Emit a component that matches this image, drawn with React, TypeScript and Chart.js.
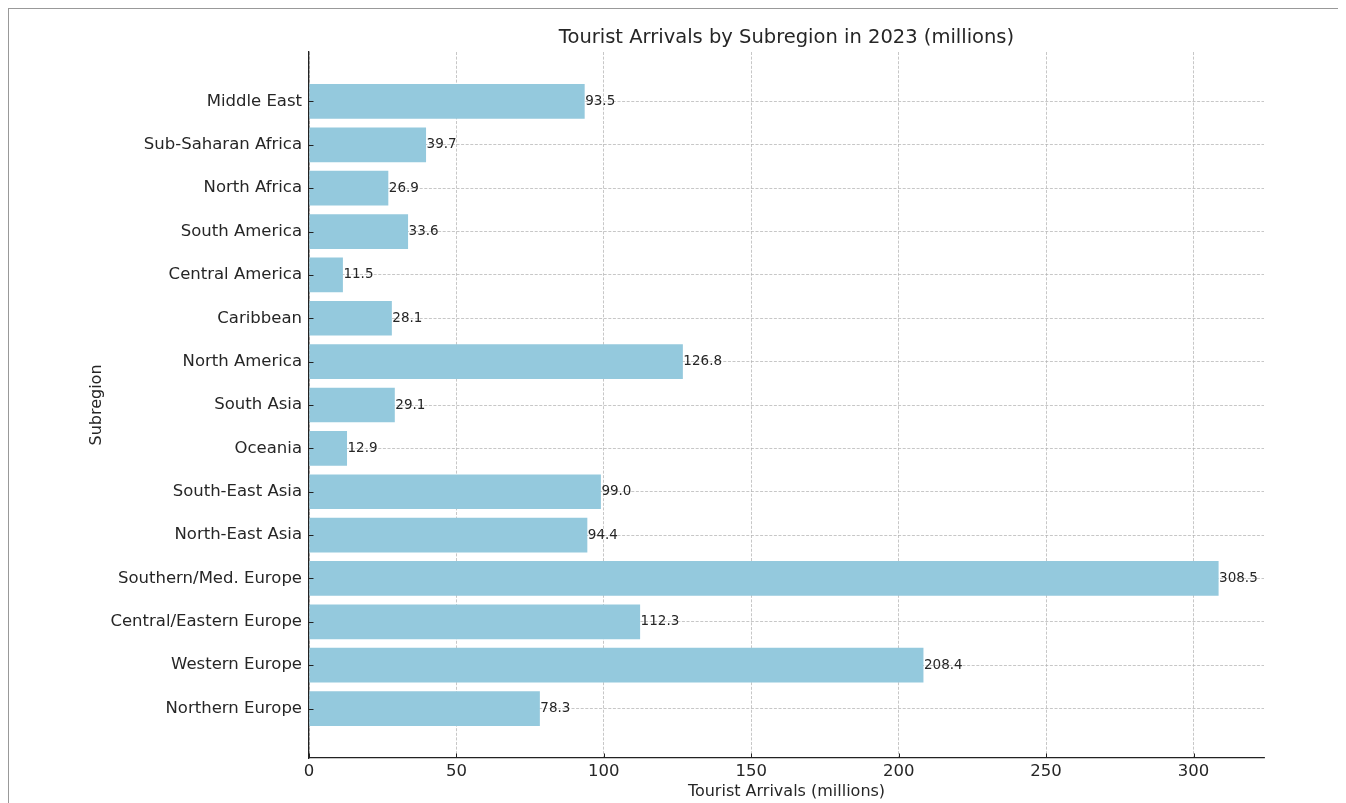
import React, { useEffect, useRef } from "react";
import { Chart, registerables } from "chart.js";

Chart.register(...registerables);

const categories = [
  "Northern Europe",
  "Western Europe",
  "Central/Eastern Europe",
  "Southern/Med. Europe",
  "North-East Asia",
  "South-East Asia",
  "Oceania",
  "South Asia",
  "North America",
  "Caribbean",
  "Central America",
  "South America",
  "North Africa",
  "Sub-Saharan Africa",
  "Middle East",
];

const arrivals = [78.3, 208.4, 112.3, 308.5, 94.4, 99.0, 12.9, 29.1, 126.8, 28.1, 11.5, 33.6, 26.9, 39.7, 93.5];

const xTicks = [0, 50, 100, 150, 200, 250, 300];

const TITLE = "Tourist Arrivals by Subregion in 2023 (millions)";
const X_TITLE = "Tourist Arrivals (millions)";
const Y_TITLE = "Subregion";

const FONT = "'DejaVu Sans', 'Liberation Sans', sans-serif";
const TEXT = "#262626";

const valueLabels = {
  id: "valueLabels",
  afterDatasetsDraw(chart: any) {
    const ctx = chart.ctx;
    const meta = chart.getDatasetMeta(0);
    ctx.save();
    ctx.font = `13.5px ${FONT}`;
    ctx.fillStyle = TEXT;
    ctx.textAlign = "left";
    ctx.textBaseline = "middle";
    meta.data.forEach((bar: any, i: number) => {
      ctx.fillText(arrivals[i].toFixed(1), bar.x + 0.5, bar.y);
    });
    ctx.restore();
  },
};

const inwardTicks = {
  id: "inwardTicks",
  afterDraw(chart: any) {
    const ctx = chart.ctx;
    const { left, bottom } = chart.chartArea;
    const xs = chart.scales.x;
    const ys = chart.scales.y;
    ctx.save();
    ctx.strokeStyle = "#222";
    ctx.lineWidth = 1;
    ctx.beginPath();
    xTicks.forEach((v) => {
      const px = Math.round(xs.getPixelForValue(v)) + 0.5;
      ctx.moveTo(px, bottom);
      ctx.lineTo(px, bottom - 4.5);
    });
    categories.forEach((_, i) => {
      const py = Math.round(ys.getPixelForValue(i)) + 0.5;
      ctx.moveTo(left, py);
      ctx.lineTo(left + 4.5, py);
    });
    ctx.stroke();
    ctx.restore();
  },
};

export default function App() {
  const ref = useRef<HTMLCanvasElement | null>(null);

  useEffect(() => {
    if (!ref.current) return;
    Chart.defaults.font.family = FONT;
    Chart.defaults.color = TEXT;
    const gridColor = "rgba(180,180,180,0.95)";
    const chart = new Chart(ref.current, {
      type: "bar",
      data: {
        datasets: [
          {
            data: categories.map((_, i) => ({ x: arrivals[i], y: i })),
            backgroundColor: "#94c9dd",
            borderColor: "#a6d3e3",
            borderWidth: 0,
            barPercentage: 0.8,
            categoryPercentage: 1.0,
          },
        ],
      },
      options: {
        indexAxis: "y",
        responsive: false,
        animation: false,
        events: [],
        layout: { padding: { top: 0, right: 82, bottom: 0, left: 0 } },
        plugins: {
          legend: { display: false },
          tooltip: { enabled: false },
          title: {
            display: true,
            text: TITLE,
            fullSize: false,
            color: TEXT,
            font: { size: 19.5, weight: "normal", family: FONT, lineHeight: 1.2 },
            padding: { top: 16.8, bottom: 2.8 },
          },
        },
        scales: {
          x: {
            type: "linear",
            min: 0,
            max: 323.9,
            z: 1,
            offset: false,
            afterBuildTicks: (scale: any) => {
              scale.ticks = xTicks.map((v) => ({ value: v }));
            },
            afterFit: (scale: any) => {
              scale.height = 45;
            },
            ticks: {
              color: TEXT,
              font: { size: 16.5, family: FONT, lineHeight: 1.2 },
              padding: 4,
              maxRotation: 0,
              autoSkip: false,
            },
            grid: {
              color: gridColor,
              lineWidth: 0.8,
              drawTicks: false,
              offset: false,
            },
            border: { display: true, color: "#222", width: 1.3, dash: [3, 1.6] },
            title: {
              display: true,
              text: X_TITLE,
              color: TEXT,
              font: { size: 16, family: FONT, lineHeight: 1.2 },
              padding: { top: 0, bottom: 1.4 },
            },
          },
          y: {
            type: "linear",
            min: -1.14,
            max: 15.14,
            z: 1,
            offset: false,
            afterBuildTicks: (scale: any) => {
              scale.ticks = categories.map((_, i) => ({ value: i }));
            },
            afterFit: (scale: any) => {
              scale.width = 300;
            },
            ticks: {
              color: TEXT,
              font: { size: 16.5, family: FONT, lineHeight: 1.2 },
              padding: 7,
              autoSkip: false,
              callback: (v: any) => categories[v as number],
            },
            grid: {
              color: gridColor,
              lineWidth: 0.8,
              drawTicks: false,
              offset: false,
            },
            border: { display: true, color: "#222", width: 1.3, dash: [3, 1.6] },
            title: {
              display: true,
              text: Y_TITLE,
              color: TEXT,
              font: { size: 16, family: FONT, lineHeight: 1.2 },
              padding: { top: 78.4, bottom: 0 },
            },
          },
        },
      } as any,
      plugins: [valueLabels, inwardTicks],
    });
    return () => chart.destroy();
  }, []);

  return (
    <div
      style={{
        width: 1338,
        height: 795,
        boxSizing: "border-box",
        borderTop: "1px solid #999",
        borderLeft: "1px solid #999",
        background: "#fff",
      }}
    >
      <canvas ref={ref} width={1337} height={794} style={{ display: "block" }} />
    </div>
  );
}
